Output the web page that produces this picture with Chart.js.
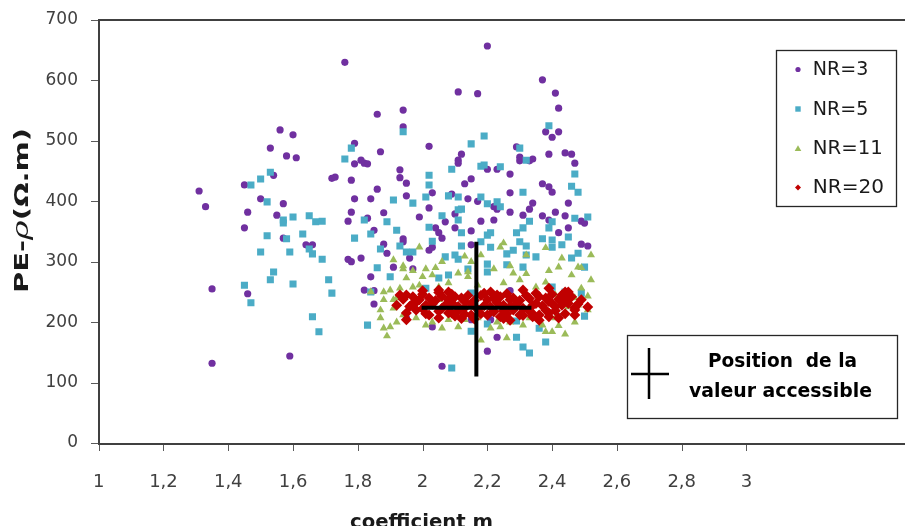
<!DOCTYPE html>
<html><head><meta charset="utf-8">
<script src="https://cdn.jsdelivr.net/npm/chart.js@4/dist/chart.umd.min.js"></script>
<style>html,body{margin:0;padding:0;background:#fff;overflow:hidden}#wrap{width:905px;height:526px;position:relative}</style>
</head><body><div id="wrap"><canvas id="c" width="905" height="526"></canvas></div>
<script>
// ---- data (m, PE-rho) ----
const seriesNames = ['NR=3','NR=5','NR=11','NR=20'];
const nr3 = [[1.31,417],[1.33,391],[1.35,255],[1.35,132],[1.45,427],[1.45,356],[1.46,382],[1.46,247],[1.53,488],[1.56,518],[1.58,475],[1.60,510],[1.61,472],[1.54,443],[1.50,404],[1.57,396],[1.55,377],[1.57,339],[1.59,144],[1.64,328],[1.66,328],[1.76,630],[1.86,544],[1.79,496],[1.87,482],[1.81,468],[1.72,438],[1.73,440],[1.78,435],[1.79,462],[1.82,463],[1.83,462],[1.86,420],[1.79,404],[1.84,404],[1.78,382],[1.77,367],[1.83,372],[1.88,381],[1.85,352],[1.88,329],[1.89,314],[1.77,304],[1.78,300],[1.81,306],[1.84,275],[1.82,253],[1.85,252],[1.85,230],
[2.20,657],[2.11,581],[2.17,578],[1.94,551],[1.94,523],[2.02,491],[2.12,478],[2.37,601],[2.41,579],[2.42,554],[2.38,515],[2.42,515],[2.40,506],[2.29,490],[2.30,473],[2.39,478],[2.44,480],[2.46,478],[2.34,470],[2.11,468],
[1.93,452],[1.93,439],[1.95,430],[2.11,463],[2.20,453],[2.23,453],[2.27,445],[2.30,467],[2.33,467],[2.47,463],[2.15,437],[2.13,429],[2.03,414],[1.95,409],[2.09,412],[2.14,404],[2.17,400],[2.27,414],[2.37,429],[2.39,424],[2.40,415],[2.34,397],[2.02,389],[1.99,374],[2.07,366],[2.10,379],[2.22,391],[2.23,387],[2.27,382],[2.31,377],[2.33,387],[2.37,376],[2.39,369],[2.41,382],[2.44,376],[2.45,397],[2.49,367],[2.50,364],[2.18,367],[2.22,369],[2.04,356],[2.05,348],[2.06,339],[2.10,356],[2.15,351],[1.94,338],[1.94,333],[2.02,319],[2.03,324],[1.96,306],[2.15,328],[2.45,356],[2.42,348],[2.49,329],[2.51,326],[1.91,291],[1.97,288],
[2.06,127],[2.20,152],[2.23,175],[2.03,192],[2.15,204],[2.21,204],[2.27,252],[2.45,233],[1.95,207]];
const nr5 = [[1.45,261],[1.47,232],[1.47,427],[1.50,437],[1.53,448],[1.52,399],[1.57,369],[1.57,364],[1.60,374],[1.65,376],[1.67,366],[1.69,367],[1.52,343],[1.58,338],[1.63,346],[1.50,316],[1.59,316],[1.65,321],[1.66,313],[1.69,304],[1.54,283],[1.53,270],[1.60,263],[1.71,270],[1.72,248],[1.66,209],[1.68,184],[1.83,195],[1.84,250],[1.79,339],[1.82,369],[1.84,346],[1.89,366],[1.87,321],[1.86,290],[1.76,470],[1.78,488],
[1.94,515],[2.15,495],[2.19,508],[2.39,525],[2.30,488],[2.32,468],
[2.02,443],[2.02,427],[2.09,453],[2.18,458],[2.19,460],[2.24,457],[2.47,445],[2.46,425],[2.48,415],[2.31,415],[1.91,402],[1.97,397],[2.01,407],[2.08,409],[2.11,407],[2.18,407],[2.20,396],[2.23,399],[2.24,391],[2.11,386],[2.12,387],[2.06,376],[2.11,369],[2.02,357],[1.92,352],[2.12,348],[2.20,344],[2.21,348],[2.29,348],[2.31,356],[2.33,367],[2.39,356],[2.40,366],[2.47,372],[2.51,374],[2.45,341],[2.03,334],[1.93,326],[1.95,316],[1.97,316],[2.07,308],[2.10,311],[2.11,304],[2.12,326],[2.18,333],[2.21,324],[2.26,313],[2.28,319],[2.30,333],[2.32,326],[2.37,338],[2.40,336],[2.40,324],[2.43,328],[2.46,306],[2.48,314],[2.50,291],[2.35,308],[2.32,311],[2.26,295],[2.31,291],[2.20,296],[2.20,283],[2.14,288],[2.08,278],[2.05,273],[1.90,275],
[2.09,124],[2.33,149],[2.31,159],[2.29,175],[2.38,167],[2.36,190],[2.29,202],[2.42,209],[2.50,210],[2.15,185],[2.20,197],[2.15,248],[2.40,258],[2.44,250],[2.49,248],[2.01,256]];
const nr11 = [[1.89,177],[1.88,237],[1.87,220],[1.88,250],[1.90,192],[1.92,200],[2.01,195],[2.06,190],[2.11,192],[2.18,170],[2.21,190],[2.24,192],[2.26,174],[2.31,195],[2.37,195],[2.38,184],[2.40,184],[2.44,180],[2.47,215],[2.48,228],[2.47,240],[2.49,256],[1.91,223],[1.92,240],[1.93,256],[1.97,258],[2.05,258],[2.35,258],[2.41,245],[2.43,237],[2.45,225],[2.23,200],[2.03,200],[2.13,204],
[1.99,324],[2.13,309],[2.25,331],[2.24,324],[2.38,323],[2.32,311],[1.94,293],[1.94,288],[1.97,285],[2.01,288],[2.04,290],[2.00,275],[2.03,278],[2.11,281],[2.14,283],[2.14,275],[2.22,288],[2.27,293],[2.28,281],[2.32,280],[2.39,285],[2.42,291],[2.46,278],[2.48,291],[2.49,290],[1.95,273],[1.91,303],
[1.84,250],[1.90,253],[1.99,261],[2.08,265],[2.17,261],[2.25,265],[2.30,270],[2.38,266],[2.52,270],[2.51,243],[2.51,220],[2.47,200],[2.41,207],[2.42,194],[2.33,207],[2.27,200],[2.17,207],[2.08,204],[1.98,207],[1.94,212],[1.87,207],[1.88,190],[2.05,237],[1.91,237],[2.52,311],[2.43,306],[2.18,311],[2.06,300],[2.15,300]];
const nr20 = [[1.94,238],[1.95,245],[1.97,231],[1.99,237],[2.00,246],[2.01,228],[2.02,212],[1.95,204],[1.98,220],[2.05,253],[2.08,250],[2.08,237],[2.10,242],[2.11,226],[2.13,234],[2.15,212],[2.12,206],[2.09,215],[2.06,223],[2.19,248],[2.20,237],[2.21,250],[2.23,245],[2.22,217],[2.24,209],[2.25,228],[2.27,237],[2.28,220],[2.25,206],[2.31,253],[2.33,239],[2.34,228],[2.36,242],[2.38,220],[2.39,209],[2.40,231],[2.41,226],[2.39,256],[2.34,209],[2.30,212],
[1.92,228],[1.93,245],[2.44,237],[2.47,220],[2.49,237],[2.51,225],[2.45,250],[2.42,207],
[2.00,222],[2.03,230],[2.05,218],[2.07,228],[2.09,232],[2.11,219],[2.13,224],[2.15,230],[2.17,221],[2.19,227],[2.21,225],[2.23,232],[2.25,219],[2.27,226],[2.29,230],[2.31,223],[2.33,218],[2.35,231],[2.37,227],[2.39,234],[2.41,219],[2.43,228],[2.45,231],[2.47,224],[1.96,226],[1.98,233],[2.02,240],[2.04,236],[2.06,243],[2.08,215],[2.10,210],[2.12,240],[2.14,244],[2.16,236],[2.18,214],[2.20,212],[2.22,239],[2.24,242],[2.26,214],[2.28,240],[2.30,236],[2.32,244],[2.34,214],[2.36,212],[2.38,240],[2.40,246],[2.42,238],[2.44,214],[2.46,242],[2.48,230],[1.97,242],[2.01,214],[2.05,249],[2.09,246],[2.13,213],[2.18,244],[2.22,218],[2.26,247],[2.31,211],[2.35,248],[2.39,215],[2.43,245],[2.47,212],[1.95,215],[2.16,205],[2.27,203],[2.36,203],[2.05,207],[2.44,250],[2.00,252]];
// accessible value (cross): centre and ranges
const accessM = 2.166, accessRho = 224;
const accessMRange = [1.997, 2.336];
const accessRhoRange = [110, 333];
// axes
const xTickValues = [1,1.2,1.4,1.6,1.8,2,2.2,2.4,2.6,2.8,3];
const xTickLabels = ['1','1,2','1,4','1,6','1,8','2','2,2','2,4','2,6','2,8','3'];
const yTickLabels = ['0','100','200','300','400','500','600','700'];

const toPts = arr => arr.map(p => ({x:p[0], y:p[1]}));
const AXIS = '#404040', TICKTXT = '#404040';
const F = 'DejaVu Sans';

function fitText(ctx, txt, x, y, w, align){
  const m = ctx.measureText(txt).width;
  ctx.save(); ctx.translate(x, y); ctx.scale(w/m, 1);
  ctx.textAlign = align; ctx.fillText(txt, 0, 0); ctx.restore();
}

const deco = {
  id:'deco',
  afterDraw(chart){
    const ctx = chart.ctx;
    const xs = chart.scales.x, ys = chart.scales.y;
    const L = Math.round(xs.getPixelForValue(1)) - 1;
    const B = Math.round(ys.getPixelForValue(0));
    const T = Math.round(ys.getPixelForValue(700));
    ctx.save();
    ctx.fillStyle = AXIS;
    ctx.fillRect(L, T - 1, 905 - L, 2);          // top border of plot area
    ctx.fillRect(L, T - 1, 2, B - T + 3);        // value axis
    ctx.fillRect(L, B, 905 - L, 2);              // category axis
    ctx.fillStyle = '#5a5a5a';
    xTickValues.forEach(v => { const px = Math.round(xs.getPixelForValue(v)); ctx.fillRect(px, B + 2, 1, 6); });
    yTickLabels.forEach(t => { const py = Math.round(ys.getPixelForValue(Number(t))); ctx.fillRect(L - 7, py, 7, 1); });

    // legend box
    ctx.strokeStyle = '#262626'; ctx.lineWidth = 1.3;
    ctx.fillStyle = '#fff';
    ctx.fillRect(776.5, 50.5, 120, 156);
    ctx.strokeRect(776.5, 50.5, 120, 156);
    const ly = [69.5, 109, 148.5, 187.5];
    const cols = ['#7030A0','#4BACC6','#9BBB59','#C00000'];
    const mx = 798;
    ctx.fillStyle = cols[0]; ctx.beginPath(); ctx.arc(mx, ly[0], 2.6, 0, Math.PI*2); ctx.fill();
    ctx.fillStyle = cols[1]; ctx.fillRect(mx-2.7, ly[1]-2.7, 5.4, 5.4);
    ctx.fillStyle = cols[2]; ctx.beginPath(); ctx.moveTo(mx, ly[2]-3.2); ctx.lineTo(mx+3.3, ly[2]+2.6); ctx.lineTo(mx-3.3, ly[2]+2.6); ctx.closePath(); ctx.fill();
    ctx.fillStyle = cols[3]; ctx.beginPath(); ctx.moveTo(mx, ly[3]-3); ctx.lineTo(mx+3, ly[3]); ctx.lineTo(mx, ly[3]+3); ctx.lineTo(mx-3, ly[3]); ctx.closePath(); ctx.fill();
    ctx.fillStyle = '#1a1a1a'; ctx.font = '19px "'+F+'"'; ctx.textBaseline = 'middle';
    const lw = [55.6, 55.6, 70, 71.3];
    seriesNames.forEach((n,i)=> fitText(ctx, n, 812.7, ly[i]+1, lw[i], 'left'));

    // accessible-value box
    ctx.strokeStyle = '#262626'; ctx.lineWidth = 1.3;
    ctx.strokeRect(627.5, 335.5, 270, 83);
    ctx.strokeStyle = '#000'; ctx.lineWidth = 2.5;
    ctx.beginPath(); ctx.moveTo(649, 348); ctx.lineTo(649, 399); ctx.moveTo(631, 374); ctx.lineTo(669, 374); ctx.stroke();
    ctx.fillStyle = '#000'; ctx.font = 'bold 19px "'+F+'"'; ctx.textBaseline = 'middle';
    fitText(ctx, 'Position  de la', 782.5, 362, 149, 'center');
    fitText(ctx, 'valeur accessible', 780.5, 392, 183, 'center');

    // x axis title
    ctx.fillStyle = '#1a1a1a'; ctx.textBaseline = 'alphabetic'; ctx.font = 'bold 20px "'+F+'"';
    fitText(ctx, 'coefficient m', 421.5, 528, 143, 'center');

    // y axis title (rotated)
    ctx.save();
    ctx.translate(28, 293); ctx.rotate(-Math.PI/2);
    const parts = [['PE-','bold 20px "'+F+'"'],['\u03C1','italic 23px "DejaVu Serif"'],['(\u03A9.m)','bold 20px "'+F+'"']];
    let tot = 0; const ws = parts.map(p=>{ctx.font=p[1]; const w=ctx.measureText(p[0]).width; tot+=w; return w;});
    const s = 165/tot; ctx.scale(s,1);
    let x0 = 0; ctx.textAlign='left';
    parts.forEach((p,i)=>{ ctx.font=p[1]; ctx.fillText(p[0], x0, 0); x0 += ws[i]; });
    ctx.restore();
    ctx.restore();
  }
};

new Chart(document.getElementById('c'), {
  type:'scatter',
  data:{ datasets:[
    {label:'cross-v', data:[{x:accessM,y:accessRhoRange[0]},{x:accessM,y:accessRhoRange[1]}], showLine:true, borderColor:'#000', borderWidth:4, pointRadius:0, order:0},
    {label:'cross-h', data:[{x:accessMRange[0],y:accessRho},{x:accessMRange[1],y:accessRho}], showLine:true, borderColor:'#000', borderWidth:4, pointRadius:0, order:0},
    {label:seriesNames[3], data:toPts(nr20), pointStyle:'rectRot', pointRadius:5.5, backgroundColor:'#C00000', borderWidth:0, order:1},
    {label:seriesNames[2], data:toPts(nr11), pointStyle:'triangle', pointRadius:4.6, backgroundColor:'#9BBB59', borderWidth:0, order:2},
    {label:seriesNames[1], data:toPts(nr5), pointStyle:'rect', pointRadius:5, backgroundColor:'#4BACC6', borderWidth:0, order:3},
    {label:seriesNames[0], data:toPts(nr3), pointStyle:'circle', pointRadius:3.6, backgroundColor:'#7030A0', borderWidth:0, order:4}
  ]},
  options:{
    responsive:false, animation:false, devicePixelRatio:1,
    layout:{padding:{top:18,right:0,left:0,bottom:0}},
    plugins:{legend:{display:false}, tooltip:{enabled:false}, title:{display:false}},
    scales:{
      x:{ type:'linear', min:0.9732, max:3.4724,
        afterBuildTicks: s => { s.ticks = xTickValues.map(v=>({value:v})); },
        afterFit: s => { s.height = 74; },
        ticks:{ callback:(v,i)=> xTickLabels[i], color:TICKTXT, font:{family:F, size:18}, padding:13, maxRotation:0, autoSkip:false },
        grid:{ display:false, tickLength:7 },
        border:{ display:false }
      },
      y:{ min:-14.9, max:703.3,
        afterBuildTicks: s => { s.ticks = yTickLabels.map(t=>({value:Number(t)})); },
        afterFit: s => { s.width = 90; },
        ticks:{ callback:(v,i)=> yTickLabels[i], color:TICKTXT, font:{family:F, size:17}, padding:5 },
        grid:{ display:false, tickLength:7 },
        border:{ display:false }
      }
    }
  },
  plugins:[deco]
});
</script></body></html>
